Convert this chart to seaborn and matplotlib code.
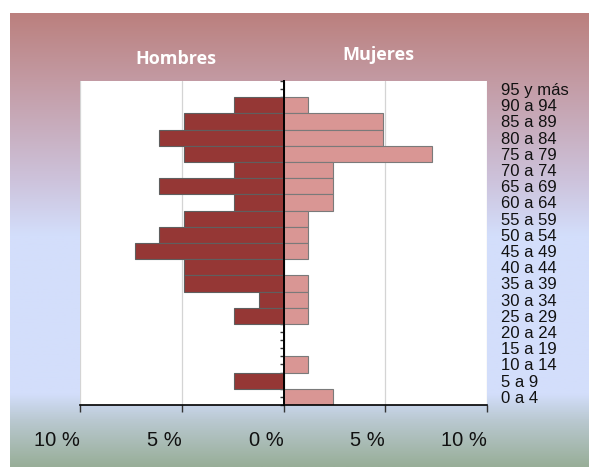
import numpy as np
import pandas as pd
import seaborn as sns
import matplotlib.pyplot as plt
from matplotlib.colors import LinearSegmentedColormap
from matplotlib.ticker import FuncFormatter, MultipleLocator

# age groups, bottom to top
ages = ['0 a 4', '5 a 9', '10 a 14', '15 a 19', '20 a 24', '25 a 29', '30 a 34',
        '35 a 39', '40 a 44', '45 a 49', '50 a 54', '55 a 59', '60 a 64', '65 a 69',
        '70 a 74', '75 a 79', '80 a 84', '85 a 89', '90 a 94', '95 y más']
hombres = [0, 2.44, 0, 0, 0, 2.44, 1.22, 4.88, 4.88, 7.32, 6.10, 4.88, 2.44, 6.10,
           2.44, 4.88, 6.10, 4.88, 2.44, 0]
mujeres = [2.44, 0, 1.22, 0, 0, 1.22, 1.22, 1.22, 0, 1.22, 1.22, 1.22, 2.44, 2.44,
           2.44, 7.32, 4.88, 4.88, 1.22, 0]
xticks = [-10, -5, 0, 5, 10]

df = pd.DataFrame({'edad': ages, 'Hombres': [-v for v in hombres], 'Mujeres': mujeres})
order = ages[::-1]

sns.set_style('white')
plt.rcParams['font.family'] = ['Liberation Sans', 'DejaVu Sans']

W, H = 589, 467
fig = plt.figure(figsize=(W / 100, H / 100), dpi=100)
fig.patch.set_facecolor('white')

# gradient background panel
bg = fig.add_axes([10 / W, 0, (W - 10) / W, (H - 13) / H], zorder=-5)
cmap = LinearSegmentedColormap.from_list('bg', [
    (0.0, '#bb807e'), (0.19, '#c5a2ae'), (0.37, '#cdc3dc'), (0.49, '#d3defb'),
    (0.84, '#d3defb'), (0.90, '#b9c8d0'), (1.0, '#98ae98')])
bg.imshow(np.linspace(0, 1, 256).reshape(-1, 1), aspect='auto', cmap=cmap,
          extent=[0, 1, 0, 1], origin='upper')
bg.axis('off')

ax = fig.add_axes([80 / W, (H - 405) / H, 407 / W, 324 / H])
ax.set_facecolor('white')

sns.barplot(data=df, x='Hombres', y='edad', order=order, orient='h', color='#953735',
            saturation=1, width=1, edgecolor='#5f5f5f', linewidth=0.8, ax=ax)
sns.barplot(data=df, x='Mujeres', y='edad', order=order, orient='h', color='#d99694',
            saturation=1, width=1, edgecolor='#7a7a7a', linewidth=0.8, ax=ax)

ax.set_xlim(-10, 10)
ax.set_ylim(len(ages) - 0.5, -0.5)
ax.set_xlabel('')
ax.set_ylabel('')

for x in xticks:
    if x != 0:
        ax.axvline(x, color='#d4d4d4', lw=0.9, zorder=0)

for s in ['top', 'right']:
    ax.spines[s].set_visible(False)
ax.spines['left'].set_position(('data', 0))
ax.spines['left'].set_color('black')
ax.spines['left'].set_linewidth(1.4)
ax.spines['left'].set_zorder(5)
ax.spines['bottom'].set_color('black')
ax.spines['bottom'].set_linewidth(1.2)

ax.set_xticks(xticks)
ax.xaxis.set_major_formatter(FuncFormatter(lambda v, p: f'{abs(v):g} %'))
ax.tick_params(axis='x', bottom=True, direction='out', length=5, width=1,
               color='#333333', pad=14, labelsize=14.5, labelcolor='#111111')
for lab in ax.get_xticklabels():
    lab.set_ha('right')

ax.yaxis.set_minor_locator(MultipleLocator(1, offset=0.5))
ax.tick_params(axis='y', which='both', left=True, right=False, labelleft=False,
               labelright=True, direction='out', length=3, width=1, color='#333333',
               pad=7, labelsize=12, labelcolor='#111111')
ax.tick_params(axis='y', which='minor', labelright=False)
for lab in ax.get_yticklabels():
    lab.set_ha('left')

fig.text(176 / W, 1 - 59 / H, 'Hombres', color='white', fontweight='bold',
         fontsize=13, family='Open Sans', ha='center', va='center')
fig.text(378 / W, 1 - 55 / H, 'Mujeres', color='white', fontweight='bold',
         fontsize=13, family='Open Sans', ha='center', va='center')

fig.savefig('out.png', dpi=100)
